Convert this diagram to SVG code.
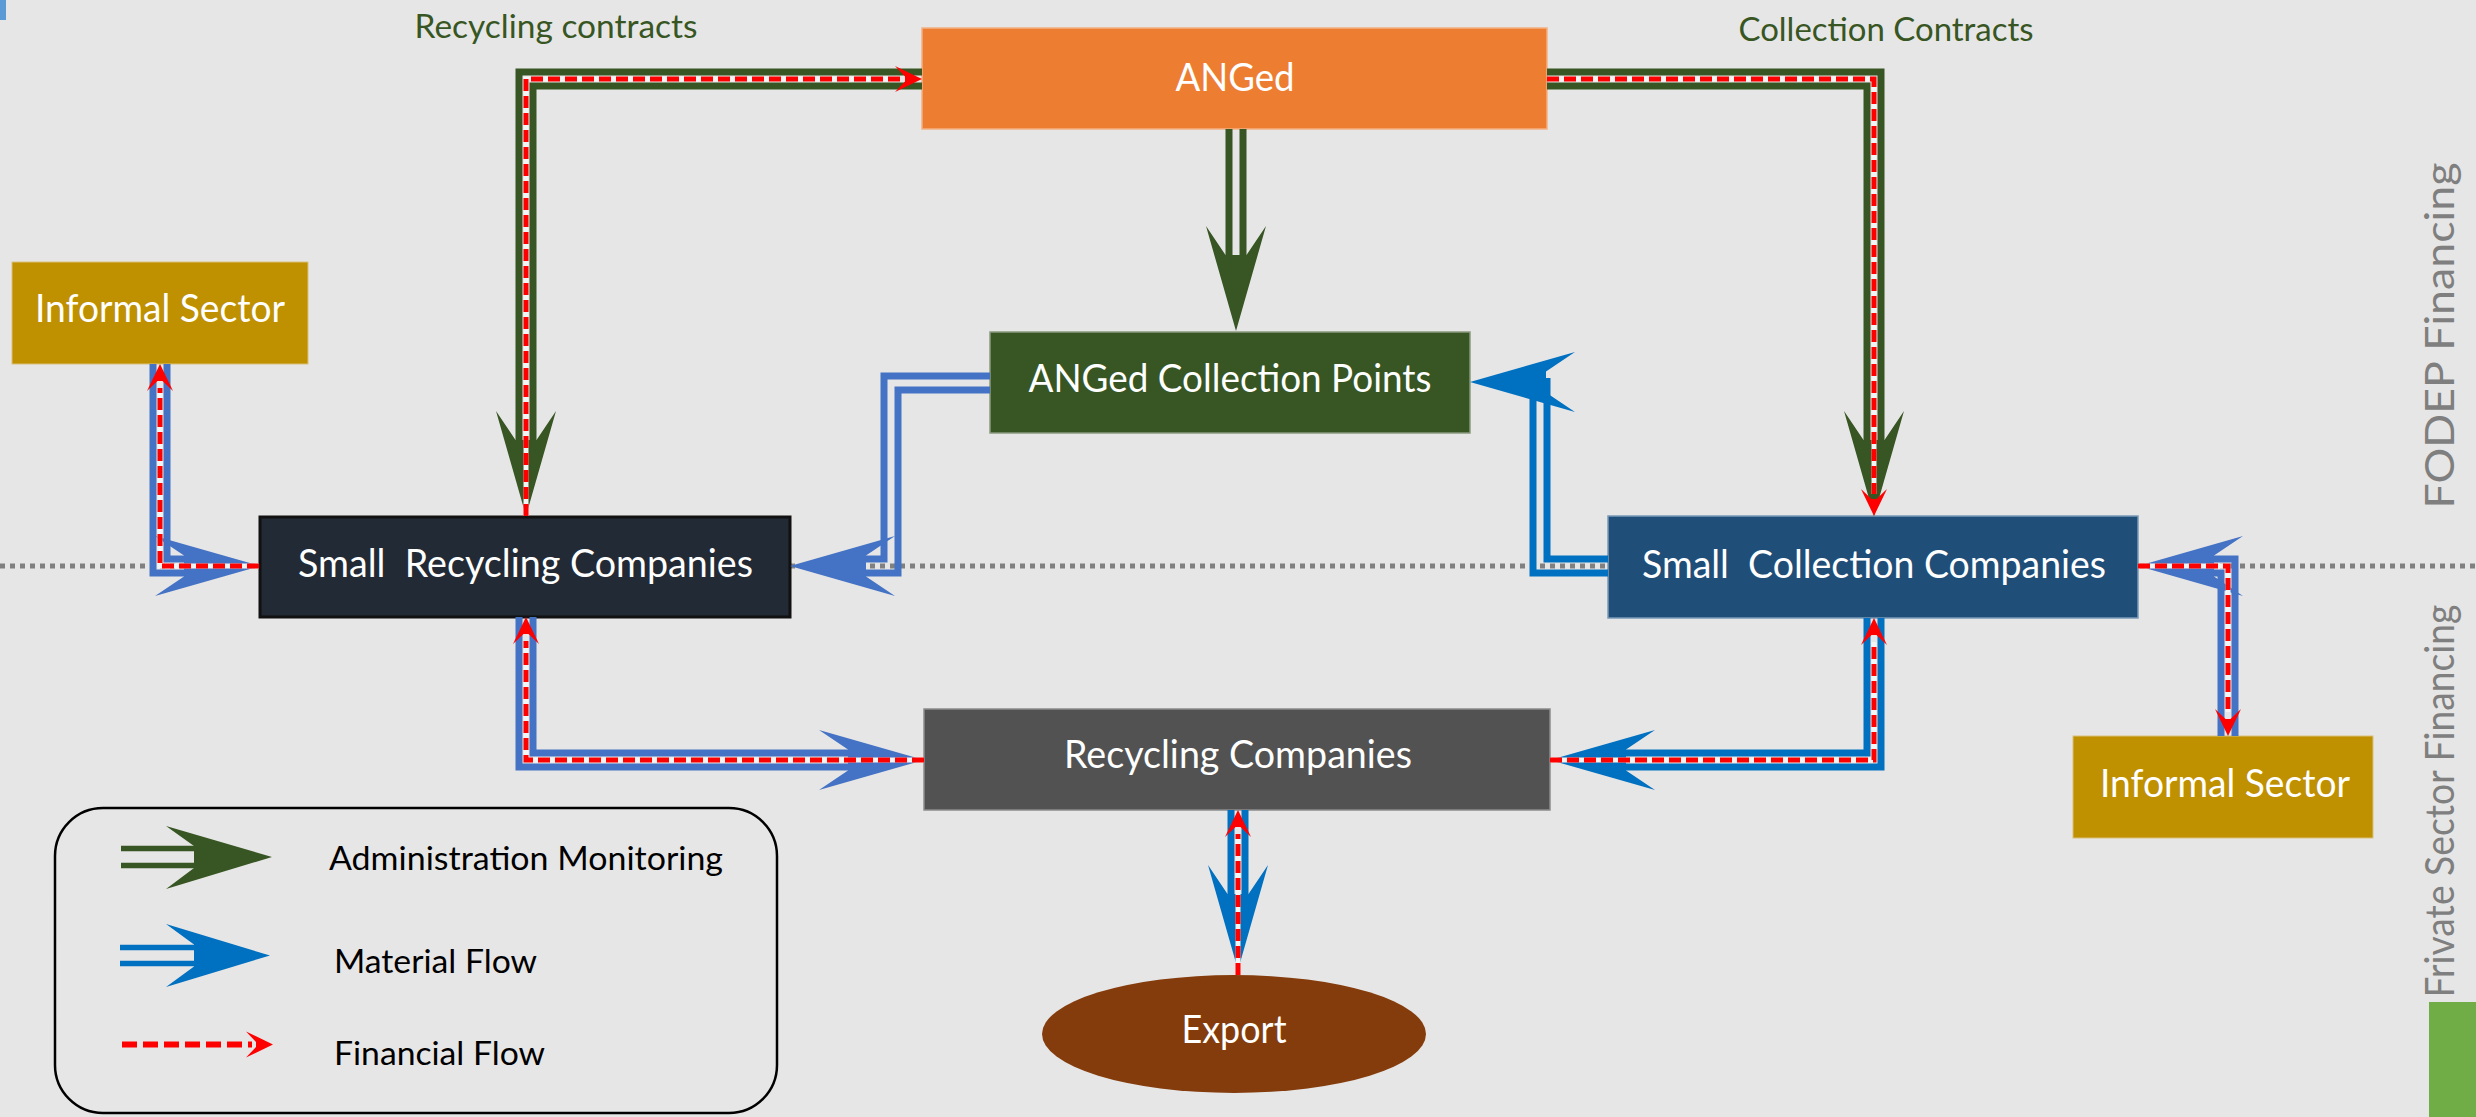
<svg xmlns="http://www.w3.org/2000/svg" width="2476" height="1117" viewBox="0 0 2476 1117">
<style>
.t{font-family:Lato,'Open Sans','Liberation Sans',sans-serif}
.w{fill:#FFFFFF;font-size:38px;text-anchor:middle}
.lg{fill:#000000;font-size:32px}
.el{fill:#375623;font-size:32px;text-anchor:middle}
.vt{fill:#7F7F7F;font-size:40px;text-anchor:middle}
.ln{fill:none;stroke-width:7;stroke-linejoin:miter;stroke-linecap:butt}
.g{stroke:#375623}
.b1{stroke:#4472C4}
.b2{stroke:#0070C0}
.ru{fill:none;stroke:#F4F4F4;stroke-width:5}
.r{fill:none;stroke:#FF0000;stroke-width:5;stroke-dasharray:12 5;stroke-linejoin:miter}
</style>
<defs>
<path id="head" d="M0,0 L-105,-30 L-76,-10.5 L-76,10.5 L-105,30 Z"/>
<path id="rhead" d="M0,0 L-27,-13 L-17,-2.5 L-17,2.5 L-27,13 Z"/>
</defs>
<rect x="0" y="0" width="2476" height="1117" fill="#E7E6E6"/>
<rect x="0" y="0" width="6" height="20" fill="#5B9BD5"/>
<line x1="0" y1="566" x2="2476" y2="566" stroke="#808080" stroke-width="5" stroke-dasharray="5 5"/>
<rect x="2429" y="1002" width="47" height="115" fill="#70AD47"/>
<text class="t vt" transform="translate(2454,335.5) rotate(-90)" textLength="346" lengthAdjust="spacingAndGlyphs">FODEP Financing</text>
<text class="t vt" transform="translate(2454,801) rotate(-90)" textLength="393" lengthAdjust="spacingAndGlyphs">Frivate Sector Financing</text>
<text class="t el" x="556" y="38" textLength="283" lengthAdjust="spacingAndGlyphs">Recycling contracts</text>
<text class="t el" x="1886" y="41" textLength="295" lengthAdjust="spacingAndGlyphs">Collection Contracts</text>

<g id="anged">
<rect x="922" y="28" width="625" height="101" fill="#ED7D31" stroke="#F4B183" stroke-width="1.5"/>
<text class="t w" x="1235" y="91" textLength="119" lengthAdjust="spacingAndGlyphs">ANGed</text>
</g>
<g id="collection-points">
<rect x="990" y="332" width="480" height="101" fill="#375623" stroke="#8A9A80" stroke-width="1.5"/>
<text class="t w" x="1230" y="392" font-size="37" textLength="403" lengthAdjust="spacingAndGlyphs">ANGed Collection Points</text>
</g>
<g id="informal-left">
<rect x="12" y="262" width="296" height="102" fill="#BF9000" stroke="#D9C07A" stroke-width="1"/>
<text class="t w" x="160" y="322" textLength="250" lengthAdjust="spacingAndGlyphs">Informal Sector</text>
</g>
<g id="small-recycling">
<rect x="260" y="517" width="530" height="100" fill="#222A35" stroke="#111111" stroke-width="3"/>
<text class="t w" x="525.5" y="577" style="white-space:pre" textLength="455" lengthAdjust="spacingAndGlyphs">Small  Recycling Companies</text>
</g>
<g id="small-collection">
<rect x="1608" y="516" width="530" height="102" fill="#1F4E79" stroke="#7A9AB8" stroke-width="1.5"/>
<text class="t w" x="1874" y="578" style="white-space:pre" textLength="464" lengthAdjust="spacingAndGlyphs">Small  Collection Companies</text>
</g>
<g id="recycling">
<rect x="924" y="709" width="626" height="101" fill="#525252" stroke="#8C8C8C" stroke-width="1.5"/>
<text class="t w" x="1238" y="768" textLength="348" lengthAdjust="spacingAndGlyphs">Recycling Companies</text>
</g>
<g id="informal-right">
<rect x="2073" y="736" width="300" height="102" fill="#BF9000" stroke="#D9C07A" stroke-width="1"/>
<text class="t w" x="2225" y="797" textLength="250" lengthAdjust="spacingAndGlyphs">Informal Sector</text>
</g>
<g id="export">
<ellipse cx="1234" cy="1034" rx="192" ry="59" fill="#843C0C"/>
<text class="t w" x="1234" y="1043" textLength="105" lengthAdjust="spacingAndGlyphs">Export</text>
</g>

<g id="connectors">
<!-- C1 ANGed -> Small Recycling (admin) + financial -->
<path class="ln g" d="M922,72 H519 V448"/>
<path class="ln g" d="M922,86 H533 V448"/>
<use href="#head" fill="#375623" transform="translate(526,516) rotate(90)"/>
<path class="ru" d="M526,516 V79 H900"/>
<path class="r" d="M526,516 V79 H900"/>
<use href="#rhead" fill="#FF0000" transform="translate(922,79)"/>

<!-- C2 ANGed -> Small Collection -->
<path class="ln g" d="M1547,72 H1881 V448"/>
<path class="ln g" d="M1547,86 H1867 V448"/>
<use href="#head" fill="#375623" transform="translate(1874,516) rotate(90)"/>
<path class="ru" d="M1547,79 H1874 V494"/>
<path class="r" d="M1547,79 H1874 V494"/>
<use href="#rhead" fill="#FF0000" transform="translate(1874,516) rotate(90)"/>

<!-- C3 ANGed -> Collection Points -->
<path class="ln g" d="M1229,129 V262"/>
<path class="ln g" d="M1243,129 V262"/>
<use href="#head" fill="#375623" transform="translate(1236,331) rotate(90)"/>

<!-- C4 Collection Points -> Small Recycling (material) -->
<path class="ln b1" d="M990,376 H884 V559 H860"/>
<path class="ln b1" d="M990,390 H898 V573 H860"/>
<use href="#head" fill="#4472C4" transform="translate(790,566) rotate(180)"/>

<!-- C5 Small Collection -> Collection Points (material) -->
<path class="ln b2" d="M1608,573 H1533 V388"/>
<path class="ln b2" d="M1608,559 H1547 V378"/>
<use href="#head" fill="#0070C0" transform="translate(1470,382) rotate(180)"/>

<!-- C6 Informal left <-> Small Recycling -->
<path class="ln b1" d="M153,364 V573 H188"/>
<path class="ln b1" d="M167,364 V559 H188"/>
<use href="#head" fill="#4472C4" transform="translate(260,566)"/>
<path class="ru" d="M259,566 H160 V388"/>
<path class="r" d="M259,566 H160 V388"/>
<use href="#rhead" fill="#FF0000" transform="translate(160,364) rotate(-90)"/>

<!-- C7 Small Recycling <-> Recycling Companies -->
<path class="ln b1" d="M519,617 V767 H852"/>
<path class="ln b1" d="M533,617 V753 H852"/>
<use href="#head" fill="#4472C4" transform="translate(924,760)"/>
<path class="ru" d="M924,760 H526 V641"/>
<path class="r" d="M924,760 H526 V641"/>
<use href="#rhead" fill="#FF0000" transform="translate(526,617) rotate(-90)"/>

<!-- C8 Small Collection <-> Recycling Companies -->
<path class="ln b2" d="M1881,618 V767 H1622"/>
<path class="ln b2" d="M1867,618 V753 H1622"/>
<use href="#head" fill="#0070C0" transform="translate(1550,760) rotate(180)"/>
<path class="ru" d="M1550,760 H1874 V642"/>
<path class="r" d="M1550,760 H1874 V642"/>
<use href="#rhead" fill="#FF0000" transform="translate(1874,618) rotate(-90)"/>

<!-- C9 Informal right <-> Small Collection -->
<path class="ln b1" d="M2210,573 H2221 V736"/>
<path class="ln b1" d="M2210,559 H2235 V736"/>
<use href="#head" fill="#4472C4" transform="translate(2138,566) rotate(180)"/>
<path class="ru" d="M2138,566 H2228 V712"/>
<path class="r" d="M2138,566 H2228 V712"/>
<use href="#rhead" fill="#FF0000" transform="translate(2228,736) rotate(90)"/>

<!-- C10 Recycling Companies <-> Export -->
<path class="ln b2" d="M1231,810 V898"/>
<path class="ln b2" d="M1245,810 V898"/>
<use href="#head" fill="#0070C0" transform="translate(1238,970) rotate(90)"/>
<path class="ru" d="M1238,975 V834"/>
<path class="r" d="M1238,975 V834"/>
<use href="#rhead" fill="#FF0000" transform="translate(1238,810) rotate(-90)"/>
</g>

<g id="legend">
<rect x="55" y="808" width="722" height="305" rx="48" ry="48" fill="none" stroke="#000000" stroke-width="2.5"/>
<path d="M121,848.5 H200 M121,865.5 H200" stroke="#375623" stroke-width="5.5" fill="none"/>
<path d="M272,857 L166,826 L194,846 L194,868 L166,889 Z" fill="#375623"/>
<path d="M120,947.5 H200 M120,963.5 H200" stroke="#0070C0" stroke-width="5.5" fill="none"/>
<path d="M270,955.5 L166,924 L194,944.5 L194,966.5 L166,987 Z" fill="#0070C0"/>
<path d="M122,1044.5 H252" stroke="#FF0000" stroke-width="6" stroke-dasharray="15 6" fill="none"/>
<use href="#rhead" fill="#FF0000" transform="translate(273,1044.5)"/>
<text class="t lg" x="329" y="870" textLength="394" lengthAdjust="spacingAndGlyphs">Administration Monitoring</text>
<text class="t lg" x="334" y="973" textLength="203" lengthAdjust="spacingAndGlyphs">Material Flow</text>
<text class="t lg" x="334" y="1065" textLength="211" lengthAdjust="spacingAndGlyphs">Financial Flow</text>
</g>
</svg>
